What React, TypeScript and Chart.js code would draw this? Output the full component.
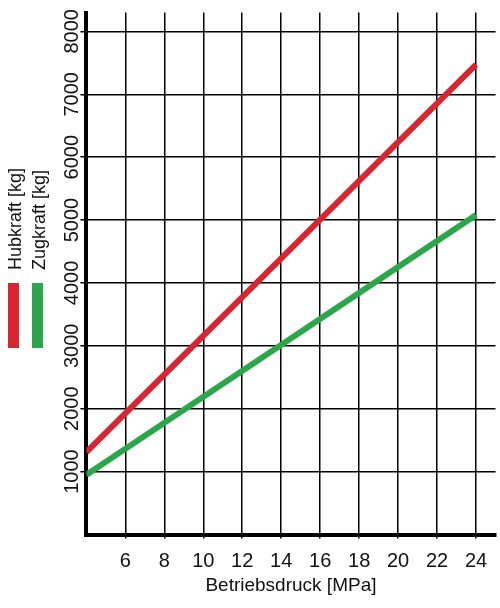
import React, { useEffect, useRef } from "react";
import { Chart, registerables } from "chart.js";

Chart.register(...registerables);

const pressure = [4, 24];
const hubkraft = [1310, 7470];
const zugkraft = [950, 5080];
const xTicks = [6, 8, 10, 12, 14, 16, 18, 20, 22, 24];
const yTicks = [1000, 2000, 3000, 4000, 5000, 6000, 7000, 8000];
const seriesLabels = ["Hubkraft [kg]", "Zugkraft [kg]"];
const xTitle = "Betriebsdruck [MPa]";

const RED = "#d7262f";
const GREEN = "#2ba64a";
const FONT = "'Liberation Sans', Arial, sans-serif";

const overlayPlugin = {
  id: "overlay",
  afterDraw(chart: any) {
    const ctx = chart.ctx as CanvasRenderingContext2D;
    const y = chart.scales.y;
    ctx.save();
    ctx.fillStyle = "#111";
    ctx.font = `20px ${FONT}`;
    ctx.textAlign = "center";
    ctx.textBaseline = "alphabetic";
    yTicks.forEach((v) => {
      const py = y.getPixelForValue(v);
      ctx.save();
      ctx.translate(78, py);
      ctx.rotate(-Math.PI / 2);
      ctx.fillText(String(v), 0, 0);
      ctx.restore();
    });
    // legend
    const colors = [RED, GREEN];
    const baseX = [21, 45];
    const barX = [8, 32];
    ctx.font = `18px ${FONT}`;
    ctx.textAlign = "left";
    seriesLabels.forEach((lab, i) => {
      ctx.save();
      ctx.translate(baseX[i], 270);
      ctx.rotate(-Math.PI / 2);
      ctx.fillStyle = "#111";
      ctx.fillText(lab, 0, 0);
      ctx.restore();
      ctx.fillStyle = colors[i];
      ctx.fillRect(barX[i], 283, 11, 65);
    });
    ctx.restore();
  },
};

export default function App() {
  const ref = useRef<HTMLCanvasElement | null>(null);
  useEffect(() => {
    document.body.style.margin = "0";
    const canvas = ref.current!;
    const chart = new Chart(canvas, {
      type: "line",
      data: {
        datasets: [
          {
            label: seriesLabels[0],
            data: pressure.map((p, i) => ({ x: p, y: hubkraft[i] })),
            borderColor: RED,
            borderWidth: 6,
            pointRadius: 0,
            tension: 0,
          },
          {
            label: seriesLabels[1],
            data: pressure.map((p, i) => ({ x: p, y: zugkraft[i] })),
            borderColor: GREEN,
            borderWidth: 6,
            pointRadius: 0,
            tension: 0,
          },
        ],
      },
      options: {
        responsive: false,
        animation: false,
        layout: { padding: { top: 12.5, right: 4.5, left: 0, bottom: 0 } },
        plugins: {
          legend: { display: false },
          tooltip: { enabled: false },
        },
        scales: {
          x: {
            type: "linear",
            min: 4,
            max: 25,
            afterBuildTicks: (s: any) => {
              s.ticks = xTicks.map((v) => ({ value: v }));
            },
            afterFit: (s: any) => {
              s.height = 73.5;
            },
            grid: {
              color: "#000",
              lineWidth: 1.5,
              tickLength: 4,
              drawOnChartArea: true,
            },
            border: { color: "#000", width: 4 },
            ticks: {
              color: "#111",
              font: { family: FONT, size: 20 },
              padding: 11,
              maxRotation: 0,
              callback: (v: any) => String(v),
            },
            title: {
              display: true,
              text: xTitle,
              color: "#111",
              font: { family: FONT, size: 19 },
              padding: { top: 4, bottom: 11 },
            },
          },
          y: {
            type: "linear",
            min: 0,
            max: 8300,
            afterBuildTicks: (s: any) => {
              s.ticks = yTicks.map((v) => ({ value: v }));
            },
            afterFit: (s: any) => {
              s.width = 86.4;
            },
            grid: { color: "#000", lineWidth: 1.5, tickLength: 6 },
            border: { color: "#000", width: 4 },
            ticks: { display: false },
          },
        },
      },
      plugins: [overlayPlugin],
    } as any);
    return () => chart.destroy();
  }, []);
  return (
    <div style={{ width: 500, height: 608, background: "#fff" }}>
      <canvas ref={ref} width={500} height={608} />
    </div>
  );
}
